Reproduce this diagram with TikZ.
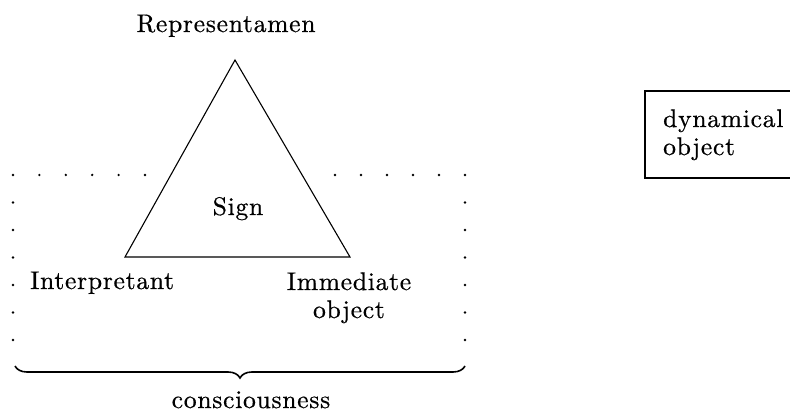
\documentclass[tikz,border=0pt]{standalone}
\usepackage{fontspec}
\setmainfont{lmroman10-regular.otf}[LetterSpace=3,FakeBold=0.6]
\usetikzlibrary{decorations.pathreplacing}
\begin{document}
\begin{tikzpicture}[x=1pt,y=-1pt,
  lbl/.style={inner sep=0pt,anchor=base,font=\fontsize{25.5}{28}\selectfont},
  dotmark/.style={fill=black},
  line/.style={line width=1.1pt}]
\useasboundingbox (0,0) rectangle (790,414);
% labels
\node[lbl] (rep) at (226,32) {Representamen};
\node[lbl] (sign) at (238,215) {Sign};
\node[lbl,anchor=base west] (interp) at (30,289) {Interpretant};
\node[lbl,align=center] (imm) at (349,318) {Immediate\\object};
\node[lbl] (cons) at (251,408) {consciousness};
% triangle
\coordinate (apex) at (235,60);
\coordinate (bl) at (125,257);
\coordinate (br) at (350,257);
\draw[line,line join=miter] (apex) -- (br) -- (bl) -- cycle;
% dotted frame
\foreach \k in {0,...,5} {
  \fill[dotmark] (13+26.4*\k,175) circle (1.3);
  \fill[dotmark] (335+26*\k,175) circle (1.3);
}
\foreach \k in {1,...,6} {
  \fill[dotmark] (13,175+27.5*\k) circle (1.3);
  \fill[dotmark] (465,175+27.5*\k) circle (1.3);
}
% brace
\coordinate (brL) at (15,366);
\coordinate (brR) at (465,366);
\draw[line width=1.6pt,decorate,decoration={brace,mirror,amplitude=12pt}] (brL) -- (brR);
% dynamical object box
\node[lbl,anchor=base west,align=left] (dyn) at (663,155) {dynamical\\object};
\coordinate (bxTL) at (645,91);
\coordinate (bxBL) at (645,178);
\draw[line width=1.3pt] (790,91) -- (bxTL) -- (bxBL) -- (790,178);
\end{tikzpicture}
\end{document}
